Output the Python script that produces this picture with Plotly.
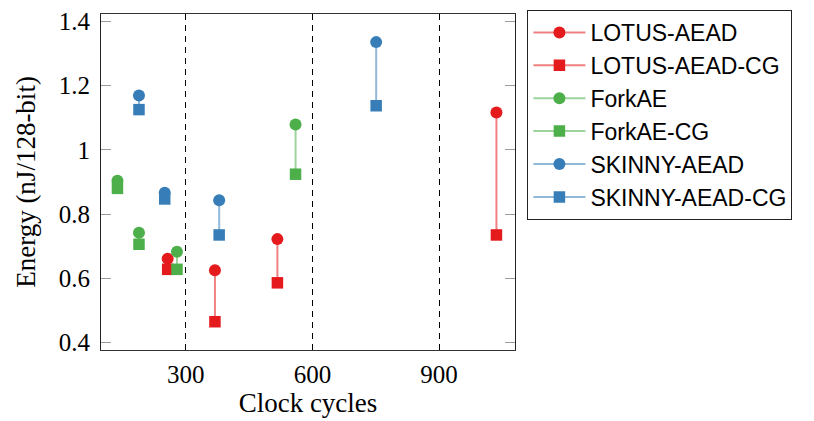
import plotly.graph_objects as go

# ---- data ----
lotus_x = [257, 369, 517, 1036]
lotus_aead = [0.661, 0.625, 0.722, 1.116]
lotus_aead_cg = [0.628, 0.465, 0.586, 0.735]

forkae_x = [138, 189, 279, 560]
forkae = [0.904, 0.742, 0.683, 1.079]
forkae_cg = [0.880, 0.706, 0.628, 0.924]

skinny_x = [189, 250, 379, 751]
skinny_aead = [1.169, 0.866, 0.843, 1.335]
skinny_aead_cg = [1.125, 0.847, 0.735, 1.137]

y_tickvals = [0.4, 0.6, 0.8, 1.0, 1.2, 1.4]
y_ticktext = ["0.4", "0.6", "0.8", "1", "1.2", "1.4"]
x_tickvals = [300, 600, 900]
x_ticktext = ["300", "600", "900"]

families = [
    ("LOTUS-AEAD", "LOTUS-AEAD-CG", lotus_x, lotus_aead, lotus_aead_cg,
     "#e41a1c", "rgba(228,26,28,0.55)"),
    ("ForkAE", "ForkAE-CG", forkae_x, forkae, forkae_cg,
     "#4daf4a", "rgba(77,175,74,0.55)"),
    ("SKINNY-AEAD", "SKINNY-AEAD-CG", skinny_x, skinny_aead, skinny_aead_cg,
     "#377eb8", "rgba(55,126,184,0.55)"),
]

SERIF = "Liberation Serif"
SANS = "Liberation Sans"

fig = go.Figure()


def gapped(vals):
    out = []
    for v in vals:
        out += [v, None]
    return out


for name, name_cg, xs, base, cg, col, lcol in families:
    # vertical connectors between the two variants
    cx, cy = [], []
    for x, b, c in zip(xs, base, cg):
        cx += [x, x, None]
        cy += [b, c, None]
    fig.add_trace(go.Scatter(
        x=cx, y=cy, mode="lines", showlegend=False, hoverinfo="skip",
        line=dict(color=lcol, width=2)))
    fig.add_trace(go.Scatter(
        x=gapped(xs), y=gapped(base), name=name, mode="lines+markers",
        connectgaps=False,
        line=dict(color=lcol, width=2),
        marker=dict(symbol="circle", size=12, color=col, line=dict(width=0))))
    fig.add_trace(go.Scatter(
        x=gapped(xs), y=gapped(cg), name=name_cg, mode="lines+markers",
        connectgaps=False,
        line=dict(color=lcol, width=2),
        marker=dict(symbol="square", size=11.5, color=col, line=dict(width=0))))

fig.update_layout(
    width=814, height=421,
    margin=dict(l=101, r=299, t=8, b=69),
    paper_bgcolor="white", plot_bgcolor="white",
    font=dict(family=SERIF, size=25, color="black"),
    legend=dict(
        x=1.03, xanchor="left", y=1.012, yanchor="top",
        bgcolor="white", bordercolor="#222", borderwidth=1,
        font=dict(family=SANS, size=23, color="black"),
        traceorder="normal", itemwidth=52,
    ),
)

fig.update_xaxes(
    range=[99, 1080],
    tickvals=x_tickvals, ticktext=x_ticktext,
    showgrid=True, gridcolor="black", gridwidth=1, griddash="6px,5px",
    zeroline=False,
    ticks="", showline=True, linecolor="#333", linewidth=1, mirror=True,
    tickfont=dict(family=SERIF, size=25),
    ticklabelstandoff=2,
    title=dict(text="Clock cycles", font=dict(family=SERIF, size=27), standoff=6),
)
fig.update_yaxes(
    range=[0.377, 1.4225],
    tickvals=y_tickvals, ticktext=y_ticktext,
    showgrid=False, zeroline=False,
    ticks="inside", ticklen=10, tickcolor="#9a9a9a", tickwidth=1,
    showline=True, linecolor="#222", linewidth=1, mirror="allticks",
    tickfont=dict(family=SERIF, size=25),
    ticklabelstandoff=5,
    title=dict(text="Energy (nJ/128-bit)", font=dict(family=SERIF, size=27), standoff=15),
)

fig.write_html("out.html")
